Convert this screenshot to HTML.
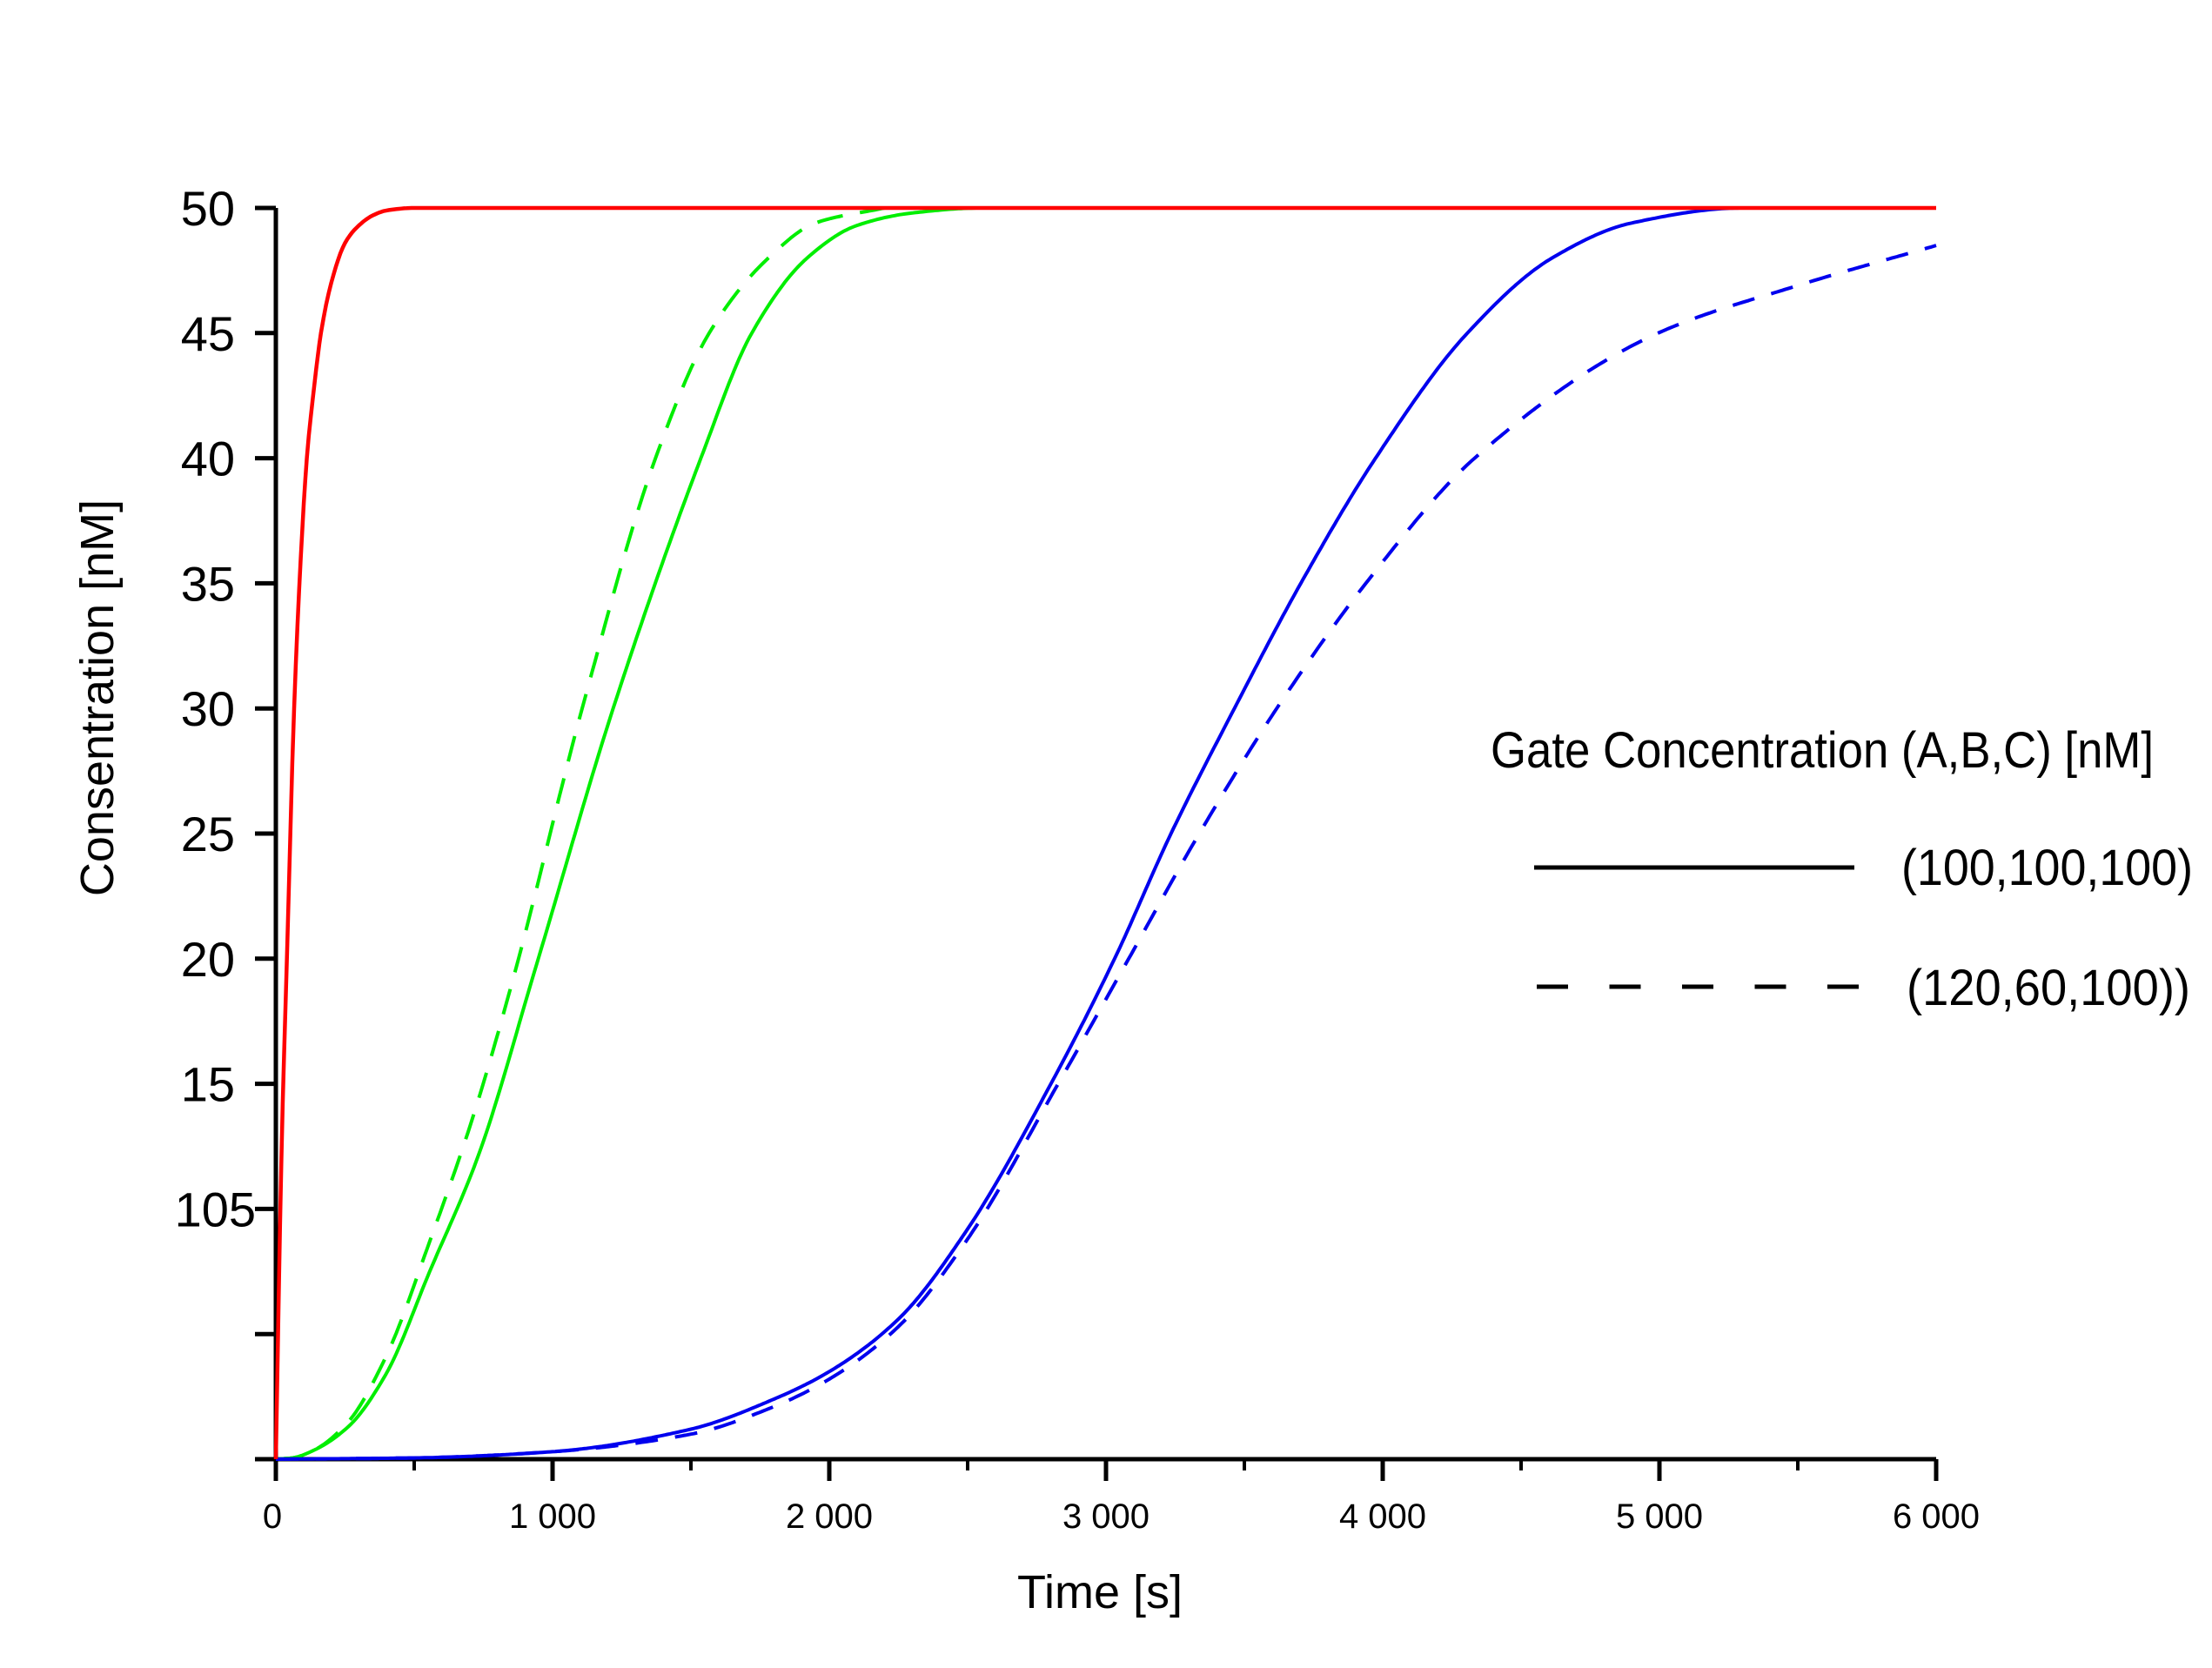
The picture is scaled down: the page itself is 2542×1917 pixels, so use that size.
<!DOCTYPE html>
<html><head><meta charset="utf-8"><style>
html,body{margin:0;padding:0;background:#fff;}
svg{display:block;}
text{font-family:"Liberation Sans",sans-serif;fill:#000;}
</style></head><body>
<svg id="chart" width="2542" height="1917" viewBox="0 0 2542 1917" xmlns="http://www.w3.org/2000/svg">
<g id="axes"></g>
<g id="series"></g>
<g id="legend">
  <text x="1713" y="882" font-size="58" textLength="762" lengthAdjust="spacingAndGlyphs">Gate Concentration (A,B,C) [nM]</text>
  <line x1="1763" y1="997" x2="2131" y2="997" stroke="#000" stroke-width="5"/>
  <text x="2185" y="1017" font-size="58" textLength="335" lengthAdjust="spacingAndGlyphs">(100,100,100)</text>
  <line x1="1766" y1="1134" x2="2136" y2="1134" stroke="#000" stroke-width="5" stroke-dasharray="36 47.5"/>
  <text x="2191" y="1155" font-size="58" textLength="326" lengthAdjust="spacingAndGlyphs">(120,60,100))</text>
</g>
<text x="1264" y="1848" font-size="54" text-anchor="middle">Time [s]</text>
<text transform="translate(130,802) rotate(-90)" font-size="54" text-anchor="middle">Consentration [nM]</text>
</svg>
<script>
const xTicks = [0,1000,2000,3000,4000,5000,6000];
const xTickLabels = ["0","1 000","2 000","3 000","4 000","5 000","6 000"];
const yTicks = [0,5,10,15,20,25,30,35,40,45,50];
const yTickLabels = ["","","105","15","20","25","30","35","40","45","50"];

const redT = [0,20,40,66,90,112,140,163,200,250,300,350,400,500,6000];
const redC = [0,12,20,30,36,40,43,45,47,48.6,49.3,49.7,49.9,50,50];
const greenSolidT = [0,60,136,262,398,556,734,943,1219,1536,1720,1920,2100,2300,2550,6000];
const greenSolidC = [0,0.05,0.35,1.3,3.4,7.5,12.2,19.8,30,40,45,48,49.3,49.8,50,50];
const greenDashT = [0,60,136,262,398,556,713,860,1107,1372,1566,1780,1950,2200];
const greenDashC = [0,0.05,0.35,1.5,4.1,8.7,13.7,19.3,30,40,45,48,49.4,50];
const blueSolidT = [0,500,1000,1500,1800,2000,2250,2500,2801,3031,3235,3464,3704,3974,4306,4612,4900,5300,6000];
const blueSolidC = [0,0.05,0.3,1.2,2.4,3.5,5.6,9.2,15,20,25,30,35,40,45,48,49.4,50,50];
const blueDashT = [0,500,1000,1500,1800,2000,2250,2500,2827,3082,3337,3617,3939,4332,4995,5500,6000];
const blueDashC = [0,0.05,0.3,1.0,2.1,3.2,5.3,8.8,15,20,25,30,35,40,45,46.9,48.5];

const X0=317, X1=2225, Y0=1677, Y1=239;
function sx(t){return X0+(t/6000)*(X1-X0);}
function sy(c){return Y0-(c/50)*(Y0-Y1);}
const NS="http://www.w3.org/2000/svg";
const axes=document.getElementById('axes');
function mk(tag,attrs,parent){const e=document.createElementNS(NS,tag);for(const k in attrs)e.setAttribute(k,attrs[k]);parent.appendChild(e);return e;}

let l=mk('line',{x1:X0,y1:Y0+24,x2:X0,y2:Y1,stroke:'#000','stroke-width':5},axes);


l=mk('line',{x1:X0-24,y1:Y0,x2:X1,y2:Y0,stroke:'#000','stroke-width':5},axes);



yTicks.forEach((v,i)=>{
  const t=mk('line',{x1:X0-24,y1:sy(v),x2:X0,y2:sy(v),stroke:'#000','stroke-width':5},axes);
  
  
  if(yTickLabels[i]){
    const tx=mk('text',{x:(yTickLabels[i].length>2?294:270),y:sy(v)+20,'font-size':56,'text-anchor':'end'},axes);
    tx.textContent=yTickLabels[i];
    
    
  }
});
xTicks.forEach((v,i)=>{
  const t=mk('line',{x1:sx(v),y1:Y0,x2:sx(v),y2:Y0+25,stroke:'#000','stroke-width':5},axes);
  
  
  const tx=mk('text',{x:sx(v)-(i===0?4:0),y:1756,'font-size':40,'text-anchor':'middle'},axes);
  tx.textContent=xTickLabels[i];
  
  
  if(i<xTicks.length-1){
    const m=mk('line',{x1:sx(v+500),y1:Y0,x2:sx(v+500),y2:Y0+13,stroke:'#000','stroke-width':4},axes);
    
    
  }
});

// monotone cubic (Fritsch-Carlson) interpolation, sampled densely
function pathD(T,C){
  const n=T.length, d=[], m=new Array(n);
  for(let i=0;i<n-1;i++) d.push((C[i+1]-C[i])/(T[i+1]-T[i]));
  m[0]=d[0]; m[n-1]=d[n-2];
  for(let i=1;i<n-1;i++){
    if(d[i-1]*d[i]<=0) m[i]=0;
    else { const w1=2*(T[i+1]-T[i])+(T[i]-T[i-1]), w2=(T[i+1]-T[i])+2*(T[i]-T[i-1]);
      m[i]=(w1+w2)/(w1/d[i-1]+w2/d[i]); }
  }
  let s='M'+sx(T[0]).toFixed(1)+','+sy(C[0]).toFixed(1);
  for(let i=0;i<n-1;i++){
    const h=T[i+1]-T[i], steps=Math.max(4,Math.ceil((sx(T[i+1])-sx(T[i]))/3));
    for(let k=1;k<=steps;k++){
      const u=k/steps, h00=2*u*u*u-3*u*u+1, h10=u*u*u-2*u*u+u, h01=-2*u*u*u+3*u*u, h11=u*u*u-u*u;
      const c=h00*C[i]+h10*h*m[i]+h01*C[i+1]+h11*h*m[i+1];
      s+=' L'+sx(T[i]+u*h).toFixed(1)+','+sy(c).toFixed(1);
    }
  }
  return s;
}
const series=document.getElementById('series');
function draw(T,C,color,dash,name,w){
  const a={d:pathD(T,C),fill:'none',stroke:color,'stroke-width':w,'stroke-linejoin':'round'};
  if(dash)a['stroke-dasharray']=dash;
  const p=mk('path',a,series);
  
  
}
draw(greenSolidT,greenSolidC,'#00ee00',null,'green-solid-line',4);
draw(greenDashT,greenDashC,'#00ee00','30 20','green-dashed-line',4);
draw(blueSolidT,blueSolidC,'#0000ee',null,'blue-solid-line',4);
draw(blueDashT,blueDashC,'#0000ee','26 20','blue-dashed-line',4);
draw(redT,redC,'#ff0000',null,'red-solid-line',4.5);
</script>
</body></html>
